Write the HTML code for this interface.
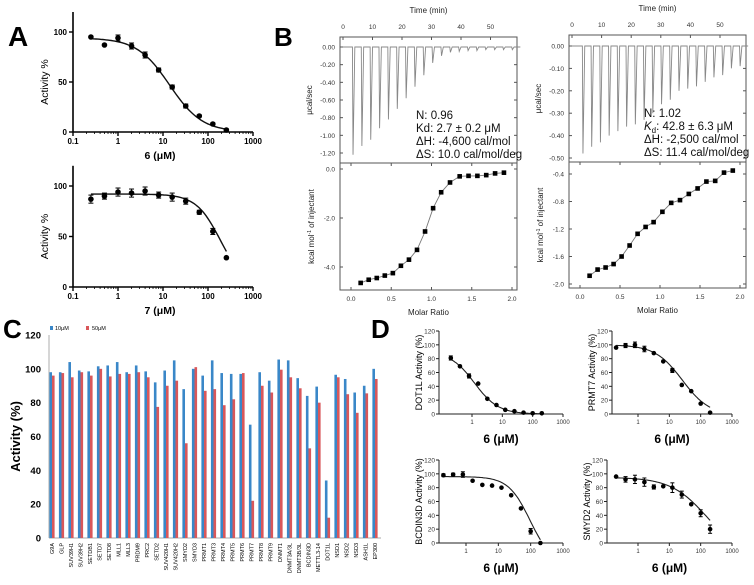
<!DOCTYPE html>
<html><head><meta charset="utf-8"><style>
html,body{margin:0;padding:0;background:#fff;}
svg{display:block;font-family:"Liberation Sans",Arial,sans-serif;}
.b{font-weight:bold;}
</style></head><body>
<svg id="fig" width="754" height="585" viewBox="0 0 754 585" xmlns="http://www.w3.org/2000/svg">
<text x="8" y="46" font-size="28" class="b">A</text>
<text x="274" y="46" font-size="26" class="b">B</text>
<text x="3" y="338" font-size="26" class="b">C</text>
<text x="371" y="338" font-size="26" class="b">D</text>
</svg>
<script>
// ---------- data ----------
const aConc = [0.25,0.5,1,2,4,8,16,32,64,128,256];
const a6Act = [95,87,94,86,77,62,45,26,16,8,2];
const a7Act = [87,90,94,93,95,91,89,85,74,55,29];
const a6Err = [0,0,3,3,3,2,2,2,1,1,1];
const a7Err = [4,3,4,4,4,3,4,3,2,3,0];
const decadeLabels = ["0.1","1","10","100","1000"];

const bTimeTicks = [0,10,20,30,40,50];
const bLeftPeaks = [-1.22,-1.12,-1.05,-0.92,-0.82,-0.70,-0.58,-0.45,-0.32,-0.18,-0.10,-0.06,-0.05,-0.04,-0.04,-0.03,-0.03,-0.03,-0.03];
const bRightPeaks = [-0.48,-0.45,-0.43,-0.40,-0.38,-0.36,-0.35,-0.33,-0.30,-0.26,-0.24,-0.20,-0.19,-0.18,-0.16,-0.14,-0.13,-0.10,-0.09];
const bLeftRatio = [0.12,0.22,0.32,0.42,0.52,0.62,0.72,0.82,0.92,1.02,1.12,1.23,1.35,1.46,1.57,1.68,1.79,1.90];
const bLeftHeat = [-4.65,-4.52,-4.45,-4.35,-4.25,-3.95,-3.7,-3.3,-2.55,-1.6,-0.95,-0.55,-0.3,-0.28,-0.28,-0.25,-0.18,-0.15];
const bRightRatio = [0.12,0.22,0.32,0.42,0.52,0.62,0.72,0.82,0.92,1.03,1.14,1.25,1.36,1.47,1.58,1.69,1.80,1.91];
const bRightHeat = [-1.88,-1.79,-1.76,-1.71,-1.6,-1.44,-1.27,-1.17,-1.1,-0.95,-0.82,-0.78,-0.69,-0.61,-0.51,-0.5,-0.38,-0.35];

const cTargets = ["G9A","GLP","SUV39H1","SUV39H2","SETDB1","SETD7","SETD8","MLL1","MLL3","PRDM9","PRC2","SETD2","SUV420H1","SUV420H2","SMYD2","SMYD3","PRMT1","PRMT3","PRMT4","PRMT5","PRMT6","PRMT7","PRMT8","PRMT9","DNMT1","DNMT3A/3L","DNMT3B/3L","BCDIN3D","METTL3-14","DOT1L","NSD1","NSD2","NSD3","ASH1L","EP300"];
const c10 = [98,98,104,99,98.5,101.5,102,104,98,102,98.5,92,99,105,88,100,96,105,97.5,97,97,67,98,93,105.5,105,94.5,84,89.5,34,96.5,94,86,90,100];
const c50 = [96,97.5,95,98,96,100,95.5,97,97,98,95,77.5,90,93,56,101,87,88,78.5,82,97.5,22,90,86,99.5,95,88.5,53,80,12,95,85,74,85.5,94];
const cTicks = [0,20,40,60,80,100,120];

const dConc = [0.2,0.4,0.8,1.6,3.2,6.4,12.5,25,50,100,200];
const dDOT1L = [81,69,55,44,22,13,6,4,2,1,1];
const dPRMT7 = [96,99,100,94,88,76,63,42,33,15,2];
const dBCDIN3D = [98,99,99,90,84,83,80,69,50,17,0];
const dSMYD2 = [96,92,92,88,81,82,80,70,56,43,20];
const dTicks = [0,20,40,60,80,100,120];

// ---------- helpers ----------
const NS="http://www.w3.org/2000/svg", svg=document.getElementById('fig');
function mk(tag,attrs,parent,txt){const e=document.createElementNS(NS,tag);for(const k in attrs)e.setAttribute(k,attrs[k]);if(txt!==undefined)e.textContent=txt;(parent||svg).appendChild(e);return e;}
function grp(name){const g=mk('g',{});


return g;}
function logistic(x,top,bot,ic,h){return bot+(top-bot)/(1+Math.pow(x/ic,h));}

// ---------- panel A ----------
function panelA(name,y0,yTop,conc,act,err,fit,xlabel){
  const g=grp(name);
  const X0=73, dec=45, x=v=>X0+(Math.log10(v)+1)*dec, y=v=>y0-(y0-yTop)*v/100;
  mk('line',{x1:X0,y1:y0,x2:X0,y2:y(120),stroke:'#000','stroke-width':1.6},g);
  mk('line',{x1:X0,y1:y0,x2:X0+4*dec,y2:y0,stroke:'#000','stroke-width':1.6},g);
  [0,50,100].forEach(t=>{mk('line',{x1:X0-4,y1:y(t),x2:X0,y2:y(t),stroke:'#000','stroke-width':1.4},g);
    const tl=mk('text',{x:X0-6,y:y(t)+3,'font-size':8,'text-anchor':'end',class:'b'},g,String(t));
    
    });
  decadeLabels.forEach((l,i)=>{const xx=X0+i*dec;mk('line',{x1:xx,y1:y0,x2:xx,y2:y0+4,stroke:'#000','stroke-width':1.4},g);
    for(let k=2;k<10&&i<4;k++)mk('line',{x1:X0+(i+Math.log10(k))*dec,y1:y0,x2:X0+(i+Math.log10(k))*dec,y2:y0+2,stroke:'#000','stroke-width':0.8},g);
    const tl=mk('text',{x:xx,y:y0+12,'font-size':8,'text-anchor':'middle',class:'b'},g,l);
    
    });
  let p='';for(let i=0;i<=80;i++){const lv=Math.log10(conc[0])+(Math.log10(conc[conc.length-1])-Math.log10(conc[0]))*i/80;const v=Math.pow(10,lv);p+=(i?'L':'M')+x(v).toFixed(1)+','+y(fit(v)).toFixed(1);}
  const c=mk('path',{d:p,fill:'none',stroke:'#111','stroke-width':1.4},g);
  
  
  conc.forEach((v,i)=>{
    if(err[i]){mk('line',{x1:x(v),y1:y(act[i]+err[i]),x2:x(v),y2:y(act[i]-err[i]),stroke:'#000','stroke-width':1},g);
      [act[i]+err[i],act[i]-err[i]].forEach(e=>mk('line',{x1:x(v)-2.5,y1:y(e),x2:x(v)+2.5,y2:y(e),stroke:'#000','stroke-width':1},g));}
    const d=mk('circle',{cx:x(v),cy:y(act[i]),r:2.8,fill:'#000'},g);
    
    });
  const yl=mk('text',{transform:`translate(48,${(y0+y(100))/2}) rotate(-90)`,'font-size':10.5,'text-anchor':'middle'},g,'Activity %');
  
  
  const xl=mk('text',{x:160,y:y0+27,'font-size':10.5,'text-anchor':'middle',class:'b'},g,xlabel);
  
  
}
panelA('chart-a-compound-6',132,32,aConc,a6Act,a6Err,v=>logistic(v,94,0,14,1.2),'6  (μM)');
panelA('chart-a-compound-7',287,186,aConc,a7Act,a7Err,v=>logistic(v,92,0,190,1.6),'7 (μM)');

// ---------- panel B ----------
function panelB(name,bx0,bx1,t0x,tmin,topY,midY,botY,y0v,yMin,yMinY,yTicksTop,peaks,t1,dt,rx0,rx1,hTopVal,hTopY,hBotVal,hBotY,hTicks,ratio,heat,info,tx){
  const g=grp(name);
  const tX=t=>t0x+t*tmin;
  const yT=v=>y0v+(v/yMin)*(yMinY-y0v);
  mk('rect',{x:bx0,y:topY,width:bx1-bx0,height:botY-topY,fill:'none',stroke:'#555','stroke-width':1},g);
  mk('line',{x1:bx0,y1:midY,x2:bx1,y2:midY,stroke:'#555','stroke-width':1},g);
  bTimeTicks.forEach(t=>{mk('line',{x1:tX(t),y1:topY,x2:tX(t),y2:topY+3,stroke:'#555'},g);
    const l=mk('text',{x:tX(t),y:topY-8,'font-size':6.5,'text-anchor':'middle',fill:'#333'},g,String(t));
    
    });
  const tt=mk('text',{x:(bx0+bx1)/2,y:topY-24,'font-size':8,'text-anchor':'middle',fill:'#222'},g,'Time (min)');
  
  
  yTicksTop.forEach(v=>{mk('line',{x1:bx0,y1:yT(v),x2:bx0+3,y2:yT(v),stroke:'#555'},g);mk('line',{x1:bx1,y1:yT(v),x2:bx1-3,y2:yT(v),stroke:'#555'},g);
    const l=mk('text',{x:bx0-5,y:yT(v)+2.5,'font-size':6.5,'text-anchor':'end',fill:'#333'},g,v.toFixed(2));
    
    });
  let p='M'+(bx0+3)+','+yT(0);
  peaks.forEach((h,i)=>{const t=t1+i*dt,x=tX(t);p+=`L${x-0.6},${yT(0)}L${x},${yT(h)}L${x+1.8},${yT(0)}L${x+8},${yT(0)}`;});
  p+='L'+(bx1-2)+','+yT(0);
  const th=mk('path',{d:p,fill:'none',stroke:'#888','stroke-width':0.9},g);
  
  
  const ul=mk('text',{transform:`translate(${bx0-28},${(topY+midY)/2}) rotate(-90)`,'font-size':8,'text-anchor':'middle',fill:'#222'},g,'μcal/sec');
  
  
  info.forEach((s,i)=>{const l=mk('text',{x:tx,y:topY+82+i*13,'font-size':11.5,fill:'#111'},g);l.innerHTML=s;
    
    });
  const rX=r=>rx0+(rx1-rx0)*r/2, hY=v=>hTopY+(v-hTopVal)*(hBotY-hTopY)/(hBotVal-hTopVal);
  [0,0.5,1,1.5,2].forEach(r=>{mk('line',{x1:rX(r),y1:botY,x2:rX(r),y2:botY-3,stroke:'#555'},g);mk('line',{x1:rX(r),y1:midY,x2:rX(r),y2:midY+3,stroke:'#555'},g);
    const l=mk('text',{x:rX(r),y:botY+11,'font-size':6.5,'text-anchor':'middle',fill:'#333'},g,r.toFixed(1));
    
    });
  hTicks.forEach(v=>{mk('line',{x1:bx0,y1:hY(v),x2:bx0+3,y2:hY(v),stroke:'#555'},g);mk('line',{x1:bx1,y1:hY(v),x2:bx1-3,y2:hY(v),stroke:'#555'},g);
    const l=mk('text',{x:bx0-5,y:hY(v)+2.5,'font-size':6.5,'text-anchor':'end',fill:'#333'},g,v.toFixed(1));
    
    });
  let f='';heat.forEach((v,i)=>{f+=(i?'L':'M')+rX(ratio[i]).toFixed(1)+','+hY(v).toFixed(1);});
  const fl=mk('path',{d:f,fill:'none',stroke:'#777','stroke-width':0.9},g);
  
  
  heat.forEach((v,i)=>{const s=mk('rect',{x:rX(ratio[i])-2.3,y:hY(v)-2.3,width:4.6,height:4.6,fill:'#000'},g);
    
    });
  const kl=mk('text',{transform:`translate(${bx0-26},${(midY+botY)/2}) rotate(-90)`,'font-size':8,'text-anchor':'middle',fill:'#222'},g);
  kl.innerHTML='kcal mol<tspan dy="-3" font-size="5">-1</tspan><tspan dy="3"> of injectant</tspan>';
  
  
  const ml=mk('text',{x:(bx0+bx1)/2,y:botY+25,'font-size':8,'text-anchor':'middle',fill:'#222'},g,'Molar Ratio');
  
  
}
panelB('chart-b-itc-6',340,517,343,2.95,37,163,290,47,-1.2,153,[0,-0.2,-0.4,-0.6,-0.8,-1.0,-1.2],bLeftPeaks,3.4,3.0,351,512,0,169,-4,267,[0,-2,-4],bLeftRatio,bLeftHeat,
 ['N: 0.96','Kd: 2.7 ± 0.2 μM','ΔH: -4,600 cal/mol','ΔS: 10.0 cal/mol/deg'],416);
panelB('chart-b-itc-7',569,746,572,2.96,35,162,288,46,-0.5,158,[0,-0.1,-0.2,-0.3,-0.4,-0.5],bRightPeaks,3.7,2.95,580,740,-0.4,174,-2.0,284,[-0.4,-0.8,-1.2,-1.6,-2.0],bRightRatio,bRightHeat,
 ['N: 1.02','<tspan font-style="italic">K</tspan><tspan font-size="8" dy="3">d</tspan><tspan dy="-3">: 42.8 ± 6.3 μM</tspan>','ΔH: -2,500 cal/mol','ΔS: 11.4 cal/mol/deg'],644);

// ---------- panel C ----------
(function(){
  const g=grp('chart-c-selectivity');
  const X0=49,Y0=538,yTop=335,step=9.5,first=52,bw=2.6;
  const y=v=>Y0-(Y0-yTop)*v/120;
  mk('line',{x1:X0,y1:Y0,x2:X0,y2:yTop,stroke:'#bbb','stroke-width':1.2},g);
  mk('line',{x1:X0,y1:Y0,x2:381,y2:Y0,stroke:'#bbb','stroke-width':1.2},g);
  cTicks.forEach(t=>{const l=mk('text',{x:X0-8,y:y(t)+3.5,'font-size':9.5,'text-anchor':'end',class:'b'},g,String(t));
    
    });
  cTargets.forEach((n,i)=>{const cx=first+i*step;
    const b1=mk('rect',{x:cx-bw,y:y(c10[i]),width:bw,height:Y0-y(c10[i]),fill:'#3a87c8'},g);
    
    
    const b2=mk('rect',{x:cx,y:y(c50[i]),width:bw,height:Y0-y(c50[i]),fill:'#d9575a'},g);
    
    
    const l=mk('text',{transform:`translate(${cx+2},${Y0+5}) rotate(-90)`,'font-size':5.5,'text-anchor':'end'},g,n);
    
    });
  const yl=mk('text',{transform:`translate(20,${(Y0+yTop)/2}) rotate(-90)`,'font-size':13,'text-anchor':'middle',class:'b'},g,'Activity (%)');
  
  
  const l1=grp('legend-entry-10um');g.appendChild(l1);
  mk('rect',{x:50,y:326,width:3,height:4,fill:'#3a87c8'},l1);mk('text',{x:55,y:330,'font-size':5.5},l1,'10μM');
  const l2=grp('legend-entry-50um');g.appendChild(l2);
  mk('rect',{x:86,y:326,width:3,height:4,fill:'#d9575a'},l2);mk('text',{x:92,y:330,'font-size':5.5},l2,'50μM');
})();

// ---------- panel D ----------
function panelD(name,ax,x1,xK,y0,yTop,vals,err,fit,ylabel){
  const g=grp(name);
  const dec=(xK-x1)/3, x=v=>x1+Math.log10(v)*dec, y=v=>y0-(y0-yTop)*v/120;
  mk('line',{x1:ax,y1:y0,x2:ax,y2:yTop,stroke:'#222','stroke-width':1},g);
  mk('line',{x1:ax,y1:y0,x2:xK,y2:y0,stroke:'#222','stroke-width':1},g);
  dTicks.forEach(t=>{mk('line',{x1:ax-3,y1:y(t),x2:ax,y2:y(t),stroke:'#222'},g);
    const l=mk('text',{x:ax-4,y:y(t)+2.5,'font-size':6.5,'text-anchor':'end',fill:'#333'},g,String(t));
    
    });
  ["1","10","100","1000"].forEach((l,i)=>{const xx=x1+i*dec;mk('line',{x1:xx,y1:y0,x2:xx,y2:y0+3,stroke:'#222'},g);
    const t=mk('text',{x:xx,y:y0+10,'font-size':6,'text-anchor':'middle',fill:'#333'},g,l);
    
    });
  let p='';for(let i=0;i<=80;i++){const lv=Math.log10(dConc[0])+(Math.log10(dConc[10])-Math.log10(dConc[0]))*i/80;const v=Math.pow(10,lv);p+=(i?'L':'M')+x(v).toFixed(1)+','+y(Math.max(0,fit(v))).toFixed(1);}
  const c=mk('path',{d:p,fill:'none',stroke:'#222','stroke-width':1.1},g);
  
  
  dConc.forEach((v,i)=>{
    if(err[i]){mk('line',{x1:x(v),y1:y(vals[i]+err[i]),x2:x(v),y2:y(vals[i]-err[i]),stroke:'#000'},g);
      [vals[i]+err[i],vals[i]-err[i]].forEach(e=>mk('line',{x1:x(v)-2,y1:y(e),x2:x(v)+2,y2:y(e),stroke:'#000'},g));}
    const d=mk('circle',{cx:x(v),cy:y(vals[i]),r:2.3,fill:'#000'},g);
    
    });
  const yl=mk('text',{transform:`translate(${ax-17},${(y0+yTop)/2}) rotate(-90)`,'font-size':9,'text-anchor':'middle'},g,ylabel);
  
  
  const xl=mk('text',{x:(ax+xK)/2,y:y0+29,'font-size':12,'text-anchor':'middle',class:'b'},g,'6  (μM)');
  
  
}
panelD('chart-d-dot1l',439,472,563,414,331,dDOT1L,[3,0,3,0,0,0,0,0,0,0,0],v=>logistic(v,90,0,1.2,1.1),'DOT1L Activity (%)');
panelD('chart-d-prmt7',612,638,732,414,331,dPRMT7,[0,3,4,4,0,0,3,0,0,0,0],v=>logistic(v,100,-2,26,1.0),'PRMT7 Activity (%)');
panelD('chart-d-bcdin3d',439,466,563,543,460,dBCDIN3D,[2,2,4,0,0,0,0,0,0,4,0],v=>logistic(v,96,-30,95,1.3),'BCDIN3D Activity (%)');
panelD('chart-d-smyd2',607,638,732,543,460,dSMYD2,[0,4,6,6,3,0,7,5,0,5,6],v=>logistic(v,95,-20,160,0.75),'SMYD2 Activity (%)');
</script>
</body></html>
